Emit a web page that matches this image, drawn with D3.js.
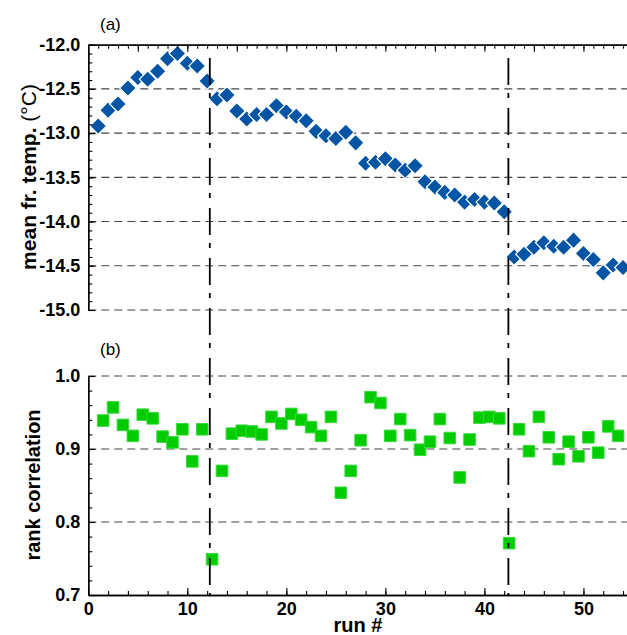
<!DOCTYPE html>
<meta charset="utf-8">
<script src="https://d3js.org/d3.v7.min.js"></script>
<style>
  body { margin: 0; background: #fff; }
  text { font-family: "Liberation Sans", Arial, sans-serif; }
</style>
<div id="my_dataviz"></div>
<script>

  // run numbers (panel a) and the between-run positions (panel b)
  var runs = [1, 2, 3, 4, 5, 6, 7, 8, 9, 10, 11, 12, 13, 14, 15, 16, 17, 18,
              19, 20, 21, 22, 23, 24, 25, 26, 27, 28, 29, 30, 31, 32, 33, 34, 35, 36,
              37, 38, 39, 40, 41, 42, 43, 44, 45, 46, 47, 48, 49, 50, 51, 52, 53, 54];
  var meanTemp = [-12.92, -12.74, -12.67, -12.49, -12.37, -12.39, -12.30, -12.16, -12.10, -12.21,
                  -12.24, -12.41, -12.61, -12.57, -12.75, -12.84, -12.79, -12.79, -12.69, -12.76,
                  -12.81, -12.86, -12.98, -13.03, -13.06, -12.99, -13.11, -13.34, -13.33, -13.29,
                  -13.36, -13.42, -13.37, -13.55, -13.61, -13.67, -13.70, -13.78, -13.75, -13.78,
                  -13.79, -13.89, -14.40, -14.37, -14.29, -14.24, -14.28, -14.29, -14.21, -14.36,
                  -14.43, -14.58, -14.49, -14.52];

  var pairRuns = [1.5, 2.5, 3.5, 4.5, 5.5, 6.5, 7.5, 8.5, 9.5, 10.5, 11.5, 12.5, 13.5, 14.5,
                  15.5, 16.5, 17.5, 18.5, 19.5, 20.5, 21.5, 22.5, 23.5, 24.5, 25.5, 26.5, 27.5,
                  28.5, 29.5, 30.5, 31.5, 32.5, 33.5, 34.5, 35.5, 36.5, 37.5, 38.5, 39.5, 40.5,
                  41.5, 42.5, 43.5, 44.5, 45.5, 46.5, 47.5, 48.5, 49.5, 50.5, 51.5, 52.5, 53.5];
  var rankCorr = [0.939, 0.957, 0.933, 0.918, 0.947, 0.942, 0.917, 0.909, 0.927, 0.883,
                  0.927, 0.749, 0.870, 0.921, 0.925, 0.924, 0.920, 0.944, 0.935, 0.948,
                  0.940, 0.930, 0.918, 0.944, 0.840, 0.870, 0.912, 0.971, 0.963, 0.918,
                  0.941, 0.919, 0.899, 0.910, 0.941, 0.915, 0.861, 0.913, 0.943, 0.944,
                  0.942, 0.771, 0.927, 0.897, 0.944, 0.916, 0.886, 0.910, 0.890, 0.916,
                  0.895, 0.931, 0.918];

  // dash-dot markers where the setup changed
  var breakRuns = [12.27, 42.42];

  // tick labels
  var runTicks = [0, 10, 20, 30, 40, 50];
  var tempTicks = [-12.0, -12.5, -13.0, -13.5, -14.0, -14.5, -15.0];
  var corrTicks = [0.7, 0.8, 0.9, 1.0];

  var W = 627, H = 635;
  var left = 88.3, right = 628;
  var aTop = 44.7, aBottom = 310;
  var bTop = 376, bBottom = 595;

  var svg = d3.select("#my_dataviz")
    .append("svg")
      .attr("width", W)
      .attr("height", H);

  var x = d3.scaleLinear().domain([0, 54.5]).range([left, right]);
  var yA = d3.scaleLinear().domain([-15, -12]).range([aBottom, aTop]);
  var yB = d3.scaleLinear().domain([0.7, 1.0]).range([bBottom, bTop]);

  // dashed grid lines
  function grid(vals, y) {
    svg.append("g").selectAll("line")
      .data(vals)
      .enter()
      .append("line")
        .attr("x1", left)
        .attr("x2", right)
        .attr("y1", function(d) { return y(d); })
        .attr("y2", function(d) { return y(d); })
        .attr("stroke", "#444")
        .attr("stroke-width", 1.1)
        .attr("stroke-dasharray", "8,5");
  }
  grid(tempTicks.slice(1), yA);
  grid(corrTicks.slice(1), yB);

  // panel (a) diamonds
  var diamond = d3.symbol().type(d3.symbolSquare).size(140);
  svg.append("g").selectAll("path")
    .data(runs)
    .enter()
    .append("path")
      .attr("d", diamond)
      .attr("transform", function(d, i) {
        return "translate(" + x(d) + "," + yA(meanTemp[i]) + ")rotate(45)";
      })
      .attr("fill", "#0254a4")
      .attr("stroke", "#fff")
      .attr("stroke-width", 1.2);

  // panel (b) squares
  var square = d3.symbol().type(d3.symbolSquare).size(134);
  svg.append("g").selectAll("path")
    .data(pairRuns)
    .enter()
    .append("path")
      .attr("d", square)
      .attr("transform", function(d, i) {
        return "translate(" + x(d) + "," + yB(rankCorr[i]) + ")";
      })
      .attr("fill", "#00cc00")
      .attr("stroke", "#3ad83a")
      .attr("stroke-width", 1);

  // vertical dash-dot lines
  svg.append("g").selectAll("line")
    .data(breakRuns)
    .enter()
    .append("line")
      .attr("x1", function(d) { return x(d); })
      .attr("x2", function(d) { return x(d); })
      .attr("y1", 58)
      .attr("y2", bBottom)
      .attr("stroke", "#000")
      .attr("stroke-width", 1.8)
      .attr("stroke-dasharray", "27,8,5,10");

  // axes
  function styleAxis(g) {
    g.select(".domain").attr("stroke", "#000").attr("stroke-width", 1.3);
    g.selectAll(".tick line").attr("stroke", "#000").attr("stroke-width", 1.1);
    g.selectAll("text")
      .style("font-family", "Liberation Sans, Arial, sans-serif")
      .style("font-weight", "bold")
      .style("font-size", "18px")
      .attr("fill", "#000");
  }

  // top edge of panel (a)
  svg.append("g")
    .attr("transform", "translate(0," + aTop + ")")
    .call(d3.axisTop(x).tickValues(d3.range(1, 55, 1)).tickSize(-4).tickSizeOuter(0).tickFormat(""))
    .call(styleAxis);
  svg.append("g")
    .attr("transform", "translate(0," + aTop + ")")
    .call(d3.axisTop(x).tickValues(d3.range(5, 55, 5)).tickSize(-7).tickSizeOuter(0).tickFormat(""))
    .call(styleAxis);

  // left axis panel (a)
  svg.append("g")
    .attr("transform", "translate(" + left + ",0)")
    .call(d3.axisLeft(yA).tickValues(d3.range(-14.9, -12, 0.1)).tickSize(-4).tickSizeOuter(0).tickFormat(""))
    .call(styleAxis);
  svg.append("g")
    .attr("transform", "translate(" + left + ",0)")
    .call(d3.axisLeft(yA).tickValues(tempTicks).tickSize(-7).tickSizeOuter(0).tickPadding(8)
      .tickFormat(function(d) { return d.toFixed(1); }))
    .call(styleAxis);

  // left axis panel (b)
  svg.append("g")
    .attr("transform", "translate(" + left + ",0)")
    .call(d3.axisLeft(yB).tickValues(d3.range(0.72, 1.0, 0.02)).tickSize(-4).tickSizeOuter(0).tickFormat(""))
    .call(styleAxis);
  svg.append("g")
    .attr("transform", "translate(" + left + ",0)")
    .call(d3.axisLeft(yB).tickValues(corrTicks).tickSize(-7).tickSizeOuter(0).tickPadding(8)
      .tickFormat(function(d) { return d.toFixed(1); }))
    .call(styleAxis);

  // bottom axis
  svg.append("g")
    .attr("transform", "translate(0," + bBottom + ")")
    .call(d3.axisBottom(x).tickValues(d3.range(2, 55, 2)).tickSize(-4).tickSizeOuter(0).tickFormat(""))
    .call(styleAxis);
  svg.append("g")
    .attr("transform", "translate(0," + bBottom + ")")
    .call(d3.axisBottom(x).tickValues(runTicks).tickSize(-7).tickSizeOuter(0).tickPadding(7)
      .tickFormat(d3.format("d")))
    .call(styleAxis);

  // labels
  svg.append("text")
    .attr("x", 100).attr("y", 30)
    .style("font-size", "17px")
    .text("(a)");
  svg.append("text")
    .attr("x", 100).attr("y", 355)
    .style("font-size", "17px")
    .text("(b)");

  var t1 = svg.append("text")
    .attr("text-anchor", "middle")
    .attr("transform", "translate(36,177)rotate(-90)")
    .style("font-size", "21px")
    .style("font-weight", "bold");
  t1.append("tspan").text("mean fr. temp. ");
  t1.append("tspan").style("font-weight", "normal").text("(°C)");

  svg.append("text")
    .attr("text-anchor", "middle")
    .attr("transform", "translate(40,485)rotate(-90)")
    .style("font-size", "20px")
    .style("font-weight", "bold")
    .text("rank correlation");

  svg.append("text")
    .attr("text-anchor", "middle")
    .attr("x", 358)
    .attr("y", 632)
    .style("font-size", "20px")
    .style("font-weight", "bold")
    .text("run #");

</script>
